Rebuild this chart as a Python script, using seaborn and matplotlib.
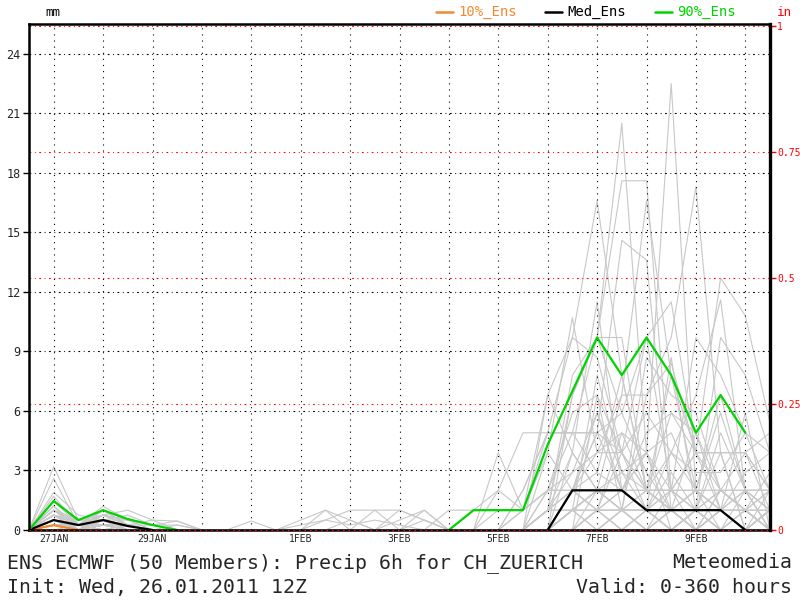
import numpy as np
import pandas as pd
import matplotlib
matplotlib.use("Agg")
import matplotlib.pyplot as plt
from matplotlib.lines import Line2D
import seaborn as sns

# ---------------- data ----------------
hours = list(range(0, 361, 12))          # 31 forecast steps (12 h spacing of plotted points)

# ensemble members: values at steps j1..j6 (j0 = 0)
members_early = [
    [3.2, 0.5, 1.0, 0.25, 0, 0], [2.6, 0.25, 0.5, 0.5, 0, 0], [1.9, 0.75, 0.5, 0.25, 0, 0],
    [1.7, 0.25, 1.0, 0.5, 0.25, 0], [1.5, 0.5, 0.75, 0.25, 0, 0], [1.46, 0.25, 1.2, 0.5, 0, 0],
    [1.2, 0, 0.5, 0.25, 0, 0], [1.2, 0.25, 0.75, 1.0, 0.5, 0], [1.0, 0.5, 0.5, 0.25, 0, 0],
    [1.0, 0.25, 0.25, 0, 0, 0], [1.0, 0, 1.0, 0.25, 0.5, 0.45], [1.0, 0.25, 0.5, 0.75, 0.25, 0],
    [0.75, 0.5, 0.25, 0, 0, 0], [0.75, 0, 0.5, 0.25, 0, 0], [0.75, 0.25, 1.0, 0.25, 0, 0],
    [0.75, 0.25, 0.75, 0.5, 0.25, 0.25], [0.75, 0, 0.25, 0, 0, 0], [0.75, 0.25, 0.5, 0.25, 0, 0],
    [0.5, 0.25, 0.5, 0, 0, 0], [0.5, 0, 0.25, 0.25, 0, 0], [0.5, 0.25, 0.5, 0.25, 0.25, 0.45],
    [0.5, 0, 0, 0, 0, 0], [0.5, 0.25, 0.75, 0.25, 0, 0], [0.5, 0, 0.5, 0, 0, 0],
    [0.5, 0.25, 0.25, 0.25, 0, 0], [0.5, 0, 0.5, 0, 0, 0], [0.5, 0.25, 0, 0.25, 0, 0.25],
    [0.5, 0, 0.5, 0, 0, 0], [0.5, 0.25, 0.25, 0.25, 0, 0], [0.5, 0, 0.75, 0.5, 0.25, 0],
    [0.25, 0, 0.5, 0, 0, 0], [0.25, 0.25, 0, 0, 0, 0], [0.25, 0, 0.25, 0.25, 0, 0],
    [0.25, 0, 0.5, 0, 0, 0], [0.25, 0.25, 0, 0, 0, 0], [0.25, 0, 0.25, 0.25, 0, 0],
    [0.25, 0, 0.5, 0, 0, 0], [0.25, 0.25, 0, 0, 0, 0], [0.25, 0, 0.25, 0, 0, 0],
    [0.25, 0, 0, 0.25, 0, 0], [0.25, 0.25, 0.5, 0, 0, 0], [0.25, 0, 0, 0, 0, 0],
    [0.25, 0, 0.25, 0, 0, 0], [0.25, 0.25, 0, 0, 0, 0], [0.25, 0, 0, 0, 0, 0],
    [0, 0, 0.25, 0, 0, 0], [0, 0, 0, 0, 0, 0], [0, 0.25, 0, 0, 0, 0],
    [0, 0, 0, 0, 0, 0], [0, 0, 0.25, 0, 0, 0],
]

# sparse small amounts in steps j7..j16: member index -> {step: mm}
members_mid = {
    20: {9: 0.45},
    26: {11: 0.5, 12: 1.0, 13: 0.5, 16: 0.5},
    30: {12: 0.5, 13: 1.0, 14: 1.0, 15: 1.0, 16: 0.5},
    32: {12: 1.0, 14: 1.0, 16: 1.0},
    35: {13: 0.5, 15: 0.5, 16: 1.0},
    37: {11: 0.25, 12: 0.5, 13: 0.25, 14: 0.5, 15: 0.25},
    39: {15: 1.0, 16: 0.5},
}

# values at steps j17..j30
members_late = [
    [0, 0, 3.9, 1.0, 6.8, 9.7, 16.6, 7.8, 2.0, 1.0, 0, 2.0, 1.0, 0],
    [0, 0, 0, 1.0, 2.0, 4.9, 9.7, 20.5, 3.9, 0, 1.0, 0, 2.0, 1.0],
    [0, 0, 0, 0, 1.0, 7.8, 9.7, 17.6, 17.6, 2.0, 0, 1.0, 0, 0],
    [0, 0, 0, 0, 0, 2.0, 4.9, 2.0, 3.9, 22.5, 2.0, 0, 1.0, 0],
    [0, 0, 0, 0, 0, 1.0, 2.0, 1.0, 6.8, 9.7, 17.3, 3.9, 0, 1.0],
    [0, 0, 0, 0, 0, 0, 1.0, 4.9, 3.9, 2.0, 3.9, 12.7, 10.8, 5.4],
    [0, 0, 0, 0, 0, 0, 2.0, 1.0, 2.0, 3.9, 6.8, 11.6, 2.0, 0],
    [1.0, 1.0, 1.0, 1.0, 4.9, 4.9, 4.9, 14.6, 13.6, 1.0, 0, 2.0, 1.0, 2.0],
    [0, 0, 0, 0, 6.8, 3.9, 11.5, 2.0, 1.0, 0, 1.0, 4.9, 2.0, 0],
    [0, 0, 0, 0, 0, 6.8, 9.7, 9.7, 2.0, 1.0, 0, 0, 0, 0],
    [0, 0, 2.0, 1.0, 3.9, 10.7, 3.9, 6.8, 16.6, 7.8, 2.0, 1.0, 0, 0],
    [0, 0, 0, 2.0, 4.9, 9.7, 8.7, 3.9, 9.7, 11.5, 3.9, 2.0, 1.0, 0],
    [0, 0, 0, 0, 1.0, 6.8, 9.7, 5.9, 9.7, 2.0, 9.7, 7.8, 4.9, 2.0],
    [0, 0, 0, 0, 0, 1.0, 7.8, 2.9, 1.0, 8.7, 1.0, 9.7, 7.8, 3.9],
    [0, 0, 0, 0, 0, 0, 6.8, 1.0, 8.7, 6.8, 5.9, 2.0, 3.9, 2.0],
    [0, 1.0, 2.0, 4.9, 4.9, 4.9, 4.9, 3.9, 5.9, 3.9, 2.0, 6.8, 2.0, 1.0],
    [0, 0, 0, 0, 2.0, 5.9, 6.8, 3.9, 2.0, 7.8, 3.9, 3.9, 3.9, 4.9],
    [0, 0, 0, 0, 3.9, 2.0, 5.9, 2.0, 4.9, 5.9, 4.9, 1.0, 5.9, 0],
    [0, 0, 0, 0, 0, 3.9, 2.0, 6.8, 6.8, 8.4, 3.9, 3.9, 3.9, 2.0],
    [0, 0, 0, 2.0, 4.9, 4.9, 2.9, 2.0, 1.0, 3.9, 2.9, 2.9, 4.9, 3.9],
    [0, 0, 0, 1.0, 2.0, 2.9, 3.9, 4.9, 2.0, 2.0, 2.0, 5.9, 2.0, 2.0],
    [0, 0, 0, 0, 0, 2.0, 4.9, 5.9, 2.9, 1.0, 4.9, 2.0, 1.0, 1.0],
    [0, 0, 0, 0, 1.0, 3.9, 2.0, 2.9, 3.9, 4.9, 2.0, 2.0, 2.0, 0],
    [0, 0, 1.0, 1.0, 2.0, 2.0, 3.9, 3.9, 1.0, 2.9, 1.0, 3.9, 0, 1.0],
    [0, 0, 0, 0, 1.0, 2.9, 5.9, 2.9, 2.0, 5.9, 3.9, 1.0, 2.9, 3.9],
    [0, 0, 0, 0, 0, 2.0, 2.9, 7.8, 2.0, 2.0, 1.0, 2.0, 1.0, 2.0],
    [0, 0, 0, 0, 1.0, 2.0, 2.0, 2.0, 3.9, 1.0, 2.0, 1.0, 2.0, 2.0],
    [0, 0, 0, 0, 0, 1.0, 2.0, 2.0, 2.0, 2.0, 2.0, 2.0, 2.0, 2.0],
    [0, 0, 0, 0, 0, 2.0, 2.0, 1.0, 1.0, 2.0, 3.9, 3.9, 3.9, 1.0],
    [0, 0, 0, 0, 2.0, 2.0, 1.0, 3.9, 2.0, 1.0, 2.0, 1.0, 1.0, 2.9],
    [0, 0, 0, 0, 0, 1.0, 2.0, 2.0, 1.0, 1.0, 1.0, 1.0, 0, 0],
    [0, 0, 0, 0, 1.0, 1.0, 2.0, 1.0, 2.0, 1.0, 0, 1.0, 1.0, 1.0],
    [0, 0, 0, 0, 0, 2.0, 1.0, 2.0, 1.0, 2.0, 1.0, 0, 0, 1.0],
    [0, 0, 0, 0, 1.0, 2.0, 1.0, 1.0, 0, 1.0, 2.0, 1.0, 0, 2.0],
    [0, 0, 0, 0, 0, 1.0, 2.0, 2.0, 1.0, 0, 1.0, 2.0, 1.0, 0],
    [0, 0, 0, 0, 0, 0, 1.0, 2.0, 2.0, 1.0, 1.0, 1.0, 0, 1.0],
    [0, 0, 0, 0, 0, 1.0, 1.0, 0, 1.0, 1.0, 0, 1.0, 2.0, 1.0],
    [0, 0, 0, 0, 1.0, 1.0, 0, 1.0, 0, 2.0, 1.0, 0, 1.0, 0],
    [0, 0, 0, 0, 0, 0, 1.0, 1.0, 1.0, 0, 1.0, 1.0, 0, 0],
    [0, 0, 0, 0, 0, 1.0, 0, 1.0, 1.0, 1.0, 0, 1.0, 1.0, 0],
    [0, 0, 0, 0, 0, 0, 1.0, 0, 0, 1.0, 1.0, 0, 0, 1.0],
    [0, 0, 0, 0, 0, 0, 0, 1.0, 1.0, 0, 1.0, 1.0, 0, 0],
    [0, 0, 0, 0, 0, 1.0, 1.0, 1.0, 0, 0, 0, 1.0, 0, 0],
    [0, 0, 0, 0, 0, 0, 0, 0, 1.0, 1.0, 1.0, 0, 0, 1.0],
    [0, 0, 0, 0, 0, 0, 1.0, 0, 0, 0, 0, 0, 1.0, 0],
    [0, 0, 0, 0, 0, 0, 0, 1.0, 0, 1.0, 0, 0, 0, 0],
    [0, 0, 0, 0, 0, 0, 0, 0, 0, 0, 1.0, 1.0, 0, 0],
    [0, 0, 0, 0, 0, 0, 0, 0, 1.0, 0, 0, 0, 0, 0],
    [0, 0, 0, 0, 0, 0, 0, 0, 0, 0, 0, 0, 0, 0],
    [0, 0, 0, 0, 0, 0, 0, 0, 0, 0, 0, 0, 0, 1.0],
]

# percentile curves (drawn segments only)
p10_hours = [0, 12, 24]
p10_vals = [0, 0.24, 0]
med_hours_a = [0, 12, 24, 36, 48, 60]
med_vals_a = [0, 0.5, 0.25, 0.5, 0.2, 0]
med_hours_b = [252, 264, 276, 288, 300, 312, 324, 336, 348]
med_vals_b = [0, 2.0, 2.0, 2.0, 1.0, 1.0, 1.0, 1.0, 0]
p90_hours_a = [0, 12, 24, 36, 48, 60, 72]
p90_vals_a = [0, 1.46, 0.5, 1.0, 0.55, 0.25, 0]
p90_hours_b = [204, 216, 228, 240, 252, 264, 276, 288, 300, 312, 324, 336, 348]
p90_vals_b = [0, 1.0, 1.0, 1.0, 4.3, 7.0, 9.7, 7.8, 9.7, 7.8, 4.9, 6.8, 4.9]

day_ticks = [12, 60, 132, 180, 228, 276, 324]
day_labels = ["27JAN", "29JAN", "1FEB", "3FEB", "5FEB", "7FEB", "9FEB"]
mm_ticks = [0, 3, 6, 9, 12, 15, 18, 21, 24]
in_ticks = [0, 0.25, 0.5, 0.75, 1]
in_labels = ["0", "0.25", "0.5", "0.75", "1"]

# ---------------- build long table ----------------
rows = []
for m in range(len(members_early)):
    vals = [0.0] + list(members_early[m]) + [0.0] * 10 + list(members_late[m])
    for j, v in members_mid.get(m, {}).items():
        vals[j] = v
    for h, v in zip(hours, vals):
        rows.append({"member": m, "hour": h, "mm": v})
ens = pd.DataFrame(rows)

sns.set_style("white")
plt.rcParams["font.family"] = ["DejaVu Sans Mono", "DejaVu Sans"]

W, H = 800, 600
fig = plt.figure(figsize=(8, 6), dpi=100)
L, R, T, B = 29, 770, 24, 530
ax = fig.add_axes([L / W, 1 - B / H, (R - L) / W, (B - T) / H])

YTOP = 25.5
# ensemble members
sns.lineplot(data=ens, x="hour", y="mm", units="member", estimator=None,
             color="#c8c8c8", linewidth=0.8, ax=ax, zorder=1, legend=False)

# grid
vdash = (0, (1.0, 4.5))
hdash = (0, (1.6, 3.2, 0.8, 3.2))
for h in range(12, 360, 24):
    ax.axvline(h, color="black", lw=0.8, ls=vdash, zorder=2)
for y in mm_ticks[1:]:
    ax.axhline(y, color="black", lw=0.8, ls=hdash, zorder=2)
for yi in in_ticks:
    ax.axhline(yi * 25.4, color="red", lw=0.8, ls=hdash, zorder=2.5)

# percentile lines
def seg(hh, vv, col):
    d = pd.DataFrame({"hour": hh, "mm": vv})
    sns.lineplot(data=d, x="hour", y="mm", color=col, linewidth=1.6, ax=ax,
                 zorder=4, legend=False)

ORANGE, GREEN = "#f08a32", "#00d400"
seg(p10_hours, p10_vals, ORANGE)
seg(med_hours_a, med_vals_a, "black")
seg(med_hours_b, med_vals_b, "black")
seg(p90_hours_a, p90_vals_a, GREEN)
seg(p90_hours_b, p90_vals_b, GREEN)

ax.set_xlim(0, 360)
ax.set_ylim(0, YTOP)
ax.set_xlabel("")
ax.set_ylabel("")
ax.set_xticks(day_ticks)
ax.set_xticklabels(day_labels)
ax.set_yticks(mm_ticks)
ax.set_yticklabels([str(t) for t in mm_ticks])
ax.tick_params(axis="x", length=0, labelsize=7, pad=3)
ax.tick_params(axis="y", length=4, width=1, labelsize=8.5, pad=2, direction="out", color="black")
for s in ax.spines.values():
    s.set_linewidth(1.8)
    s.set_color("black")
    s.set_zorder(5)

ax2 = ax.twinx()
ax2.set_ylim(0, YTOP / 25.4)
ax2.set_yticks(in_ticks)
ax2.set_yticklabels(in_labels)
ax2.tick_params(axis="y", length=4, width=1, colors="red", labelsize=7, pad=1)
for s in ax2.spines.values():
    s.set_visible(False)
ax2.spines["right"].set_visible(True)
ax2.spines["right"].set_linewidth(2.4)
ax2.spines["right"].set_color("black")
ax2.grid(False)

# red dotted baseline on top of axis line
ax.axhline(0, color="red", lw=0.9, ls=(0, (1.2, 3.2)), zorder=6, clip_on=False)

# header texts
fig.text(45 / W, 1 - 12 / H, "mm", fontsize=9, color="black", va="center", ha="left")
fig.text(777 / W, 1 - 12 / H, "in", fontsize=9, color="red", va="center", ha="left")
leg = [(436, ORANGE, "10%_Ens"), (545, "black", "Med_Ens"), (655, GREEN, "90%_Ens")]
for x0, col, lab in leg:
    fig.add_artist(Line2D([x0 / W, (x0 + 17) / W], [1 - 12 / H] * 2, color=col, lw=1.8,
                          transform=fig.transFigure))
    fig.text((x0 + 22) / W, 1 - 12 / H, lab, fontsize=10, color=col, va="center", ha="left")

# footer texts
fig.text(7 / W, 1 - 568 / H, "ENS ECMWF (50 Members): Precip 6h for CH_ZUERICH",
         fontsize=14.3, va="baseline", ha="left")
fig.text(792 / W, 1 - 568 / H, "Meteomedia", fontsize=14.3, va="baseline", ha="right")
fig.text(7 / W, 1 - 593 / H, "Init: Wed, 26.01.2011 12Z", fontsize=14.3, va="baseline", ha="left")
fig.text(792 / W, 1 - 593 / H, "Valid: 0-360 hours", fontsize=14.3, va="baseline", ha="right")

fig.savefig("out.png", dpi=100, facecolor="white")
